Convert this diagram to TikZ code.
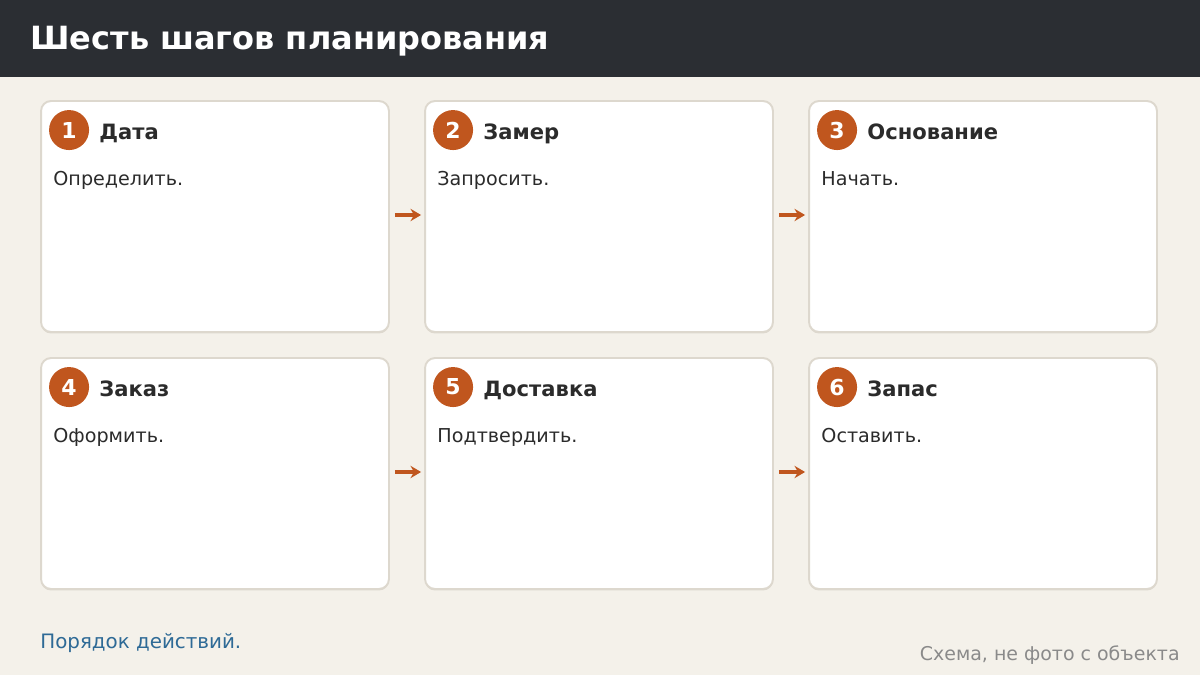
\documentclass[tikz,border=0pt]{standalone}
\usepackage{fontspec}
\setmainfont{DejaVu Sans}
\usepackage{xcolor}
\usetikzlibrary{arrows.meta,positioning,calc}
\definecolor{bgpaper}{HTML}{F4F1EA}
\definecolor{topbar}{HTML}{2B2E33}
\definecolor{cardline}{HTML}{DDD8CE}
\definecolor{rust}{HTML}{C0561E}
\definecolor{inktext}{HTML}{2B2B2B}
\definecolor{footblue}{HTML}{2E6A96}
\definecolor{footgrey}{HTML}{8A8A8A}
\begin{document}
\begin{tikzpicture}[x=0.02cm,y=-0.02cm,
  card/.style={draw=cardline,line width=1.1pt,fill=white,rounded corners=0.2cm,
    minimum width=6.96cm,minimum height=4.62cm,inner sep=0pt},
  cardshadow/.style={fill=cardline,rounded corners=0.2cm,
    minimum width=6.96cm,minimum height=4.62cm,inner sep=0pt},
  badge/.style={circle,fill=rust,minimum size=0.8cm,inner sep=0pt,text=white,
    font=\fontsize{12.5}{14}\selectfont\bfseries},
  head/.style={anchor=base west,inner sep=0pt,text=inktext,font=\fontsize{12}{14}\selectfont\bfseries},
  body/.style={anchor=base west,inner sep=0pt,text=inktext,font=\fontsize{10.9}{13}\selectfont},
  flow/.style={draw=rust,line width=2.3pt,-{Stealth[length=6pt,width=7pt]},
    shorten <=0.1cm,shorten >=0.06cm}]
\useasboundingbox (0,0) rectangle (1200,675);
\fill[bgpaper] (0,0) rectangle (1200,675);
% title bar
\fill[topbar] (0,0) rectangle (1200,77);
\node[anchor=base west,inner sep=0pt,text=white,font=\fontsize{18.2}{21}\selectfont\bfseries]
  (title) at (30,50) {Шесть шагов планирования};
% six cards, card centres in px
\foreach \n/\cx/\cy/\hd/\bd in {1/215/216.5/Дата/Определить.,
    2/599/216.5/Замер/Запросить.,
    3/983/216.5/Основание/Начать.,
    4/215/473.5/Заказ/Оформить.,
    5/599/473.5/Доставка/Подтвердить.,
    6/983/473.5/Запас/Оставить.}{
  \node[cardshadow] at (\cx,\cy+1.5) {};
  \node[card] (card\n) at (\cx,\cy) {};
  \node[badge] (num\n) at ($(card\n.north west)+(29,30)$) {\n};
  \node[head] (head\n) at ($(card\n.north west)+(59,39)$) {\hd};
  \node[body] (body\n) at ($(card\n.north west)+(13,85)$) {\bd};
}
% arrows between neighbours in a row
\draw[flow] ($(card1.east)+(0,-1.5)$) -- ($(card2.west)+(0,-1.5)$);
\draw[flow] ($(card2.east)+(0,-1.5)$) -- ($(card3.west)+(0,-1.5)$);
\draw[flow] ($(card4.east)+(0,-1.5)$) -- ($(card5.west)+(0,-1.5)$);
\draw[flow] ($(card5.east)+(0,-1.5)$) -- ($(card6.west)+(0,-1.5)$);
% footer
\node[anchor=base west,inner sep=0pt,text=footblue,font=\fontsize{11.3}{13}\selectfont]
  (note) at (40,648) {Порядок действий.};
\node[anchor=base east,inner sep=0pt,text=footgrey,font=\fontsize{10.8}{13}\selectfont]
  (credit) at (1180,660) {Схема, не фото с объекта};
\end{tikzpicture}
\end{document}
